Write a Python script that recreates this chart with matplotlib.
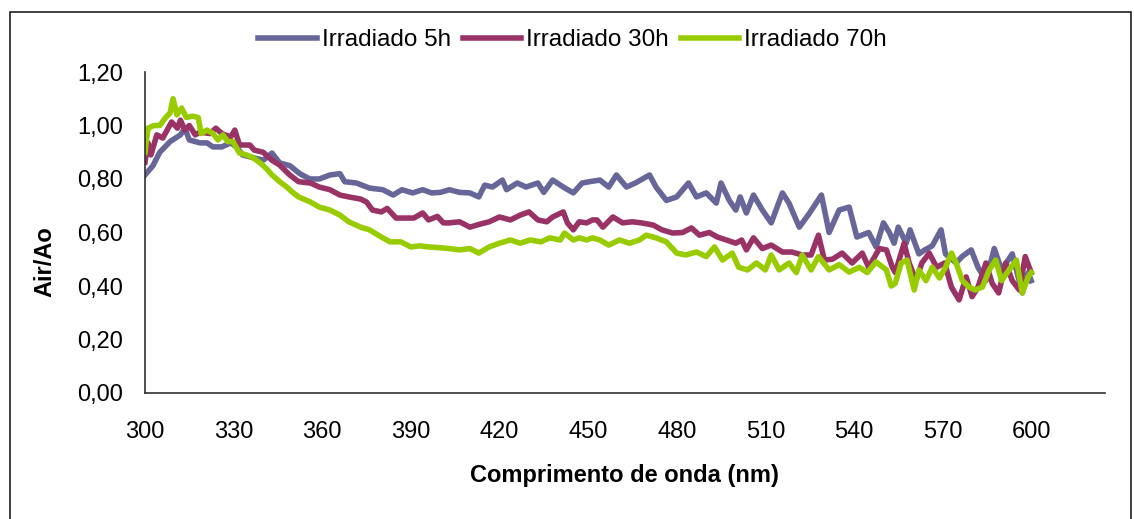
import numpy as np
import matplotlib
matplotlib.use('Agg')
import matplotlib.pyplot as plt
from matplotlib.patches import Rectangle

plt.rcParams['font.family'] = ['Liberation Sans', 'DejaVu Sans']

# Irradiado 5h
nm_5h = [300, 302.7, 305, 308.5, 312, 313.5, 315, 318.6, 321, 323, 326, 329, 331, 333,
         336.5, 340, 343, 345.6, 349, 352.4, 355.8, 359, 362.6, 366, 367.6, 371.6, 376,
         380.5, 384, 387, 390.6, 394, 397, 400, 403, 406.5, 410, 413, 415, 417.6, 421,
         422.4, 426, 429, 433, 435, 438, 441.6, 445, 448, 450.5, 454, 457, 459.6, 463,
         466, 470.8, 473, 476.5, 480, 484, 486.7, 490, 493.4, 495, 497.8, 500, 501.5,
         503.6, 506, 509, 512, 515.8, 518, 521.5, 525, 529, 531.6, 535, 538.4, 541, 545,
         547.5, 550, 552, 553.6, 555, 557.7, 559, 562, 564, 566.5, 569.5, 571, 574.6,
         576.6, 579.7, 582, 584.7, 587.5, 590, 593.6, 597, 599, 600]
val_5h = [0.815, 0.85, 0.90, 0.94, 0.965, 0.99, 0.946, 0.935, 0.935, 0.92, 0.92, 0.935, 0.92, 0.89,
          0.88, 0.87, 0.897, 0.86, 0.85, 0.82, 0.80, 0.80, 0.815, 0.82, 0.79, 0.785, 0.766,
          0.76, 0.74, 0.76, 0.748, 0.76, 0.748, 0.75, 0.76, 0.75, 0.748, 0.733, 0.777, 0.77, 0.796,
          0.76, 0.785, 0.77, 0.785, 0.75, 0.796, 0.77, 0.748, 0.785, 0.79, 0.796, 0.77, 0.815, 0.77,
          0.785, 0.815, 0.77, 0.72, 0.733, 0.785, 0.733, 0.748, 0.71, 0.785, 0.72, 0.684, 0.733,
          0.673, 0.74, 0.684, 0.636, 0.748, 0.71, 0.62, 0.673, 0.74, 0.60, 0.684, 0.695, 0.583, 0.60,
          0.546, 0.636, 0.60, 0.56, 0.62, 0.56, 0.61, 0.52, 0.535, 0.55, 0.61, 0.52, 0.486,
          0.51, 0.535, 0.47, 0.42, 0.54, 0.46, 0.52, 0.374, 0.45, 0.42]

# Irradiado 30h
nm_30h = [300, 301, 302, 304, 306, 309, 311, 312, 313.5, 315, 317, 318.6, 322, 324, 326, 329,
          330.4, 332, 335.5, 337, 340, 343, 345.6, 349, 352, 356, 359, 362.6, 366, 369, 373,
          375, 377, 380, 382, 385, 387, 391, 394, 396, 399, 401, 403, 406.5, 410, 413, 416.5,
          420, 423.7, 427, 430, 433, 436, 438, 441.6, 443, 445, 447, 449.5, 451.5, 453, 455,
          458.4, 461.7, 465, 468, 472, 475, 478.6, 482, 485, 487.7, 491, 493.8, 496.8, 500,
          502, 503.6, 506, 509, 512, 515.8, 519, 522.5, 525.5, 528, 530, 532.7, 536, 539.4,
          542.8, 545, 548.6, 551, 553, 554, 557, 558.7, 561, 563, 565.5, 568, 570.7, 573,
          575.6, 578, 580, 582, 584.7, 586.8, 589, 591.4, 593.6, 596, 598, 600]
val_30h = [0.863, 0.935, 0.89, 0.965, 0.953, 1.013, 0.99, 1.02, 0.983, 1.00, 0.965, 0.975, 0.97,
           0.99, 0.97, 0.957, 0.983, 0.927, 0.927, 0.908, 0.90, 0.87, 0.852, 0.815, 0.79, 0.785,
           0.77, 0.76, 0.74, 0.733, 0.725, 0.714, 0.684, 0.677, 0.69, 0.654, 0.654, 0.654, 0.673,
           0.647, 0.66, 0.636, 0.636, 0.64, 0.62, 0.63, 0.64, 0.658, 0.647, 0.665, 0.677, 0.647,
           0.64, 0.658, 0.677, 0.636, 0.61, 0.64, 0.636, 0.647, 0.647, 0.62, 0.658, 0.636, 0.64,
           0.636, 0.628, 0.61, 0.598, 0.60, 0.617, 0.59, 0.60, 0.583, 0.572, 0.56, 0.572, 0.535,
           0.58, 0.54, 0.553, 0.527, 0.527, 0.516, 0.516, 0.59, 0.497, 0.50, 0.523, 0.486, 0.523,
           0.47, 0.54, 0.535, 0.47, 0.45, 0.56, 0.486, 0.42, 0.486, 0.523, 0.47, 0.486, 0.396,
           0.348, 0.434, 0.36, 0.396, 0.486, 0.41, 0.374, 0.486, 0.42, 0.385, 0.51, 0.45]

# Irradiado 70h
nm_70h = [300, 301, 303, 305, 307, 308.5, 309.5, 310.8, 312.4, 314, 316, 318, 319, 321, 323,
          324.7, 326.4, 328, 329.8, 331, 332, 334.4, 336.5, 339, 341, 343, 345.6, 348, 350,
          352, 356, 359, 362.6, 366, 369, 373, 376, 380, 383, 386.6, 390, 393, 396, 400, 403,
          406.5, 410, 413, 416.5, 420, 423.7, 427, 430.4, 434, 437, 440.6, 442, 445, 447,
          449.5, 451.5, 454, 457, 460.6, 464, 467.4, 469.7, 473, 476.5, 480, 483, 486.7, 490,
          492.8, 495.5, 498.8, 501, 504, 507, 510, 512, 514.7, 518, 520.5, 522.5, 525.5, 528,
          531.6, 535, 538.4, 541.8, 544.5, 547.5, 551, 552.6, 554, 556, 558, 560.4, 562,
          564.4, 566.5, 569, 571, 573, 574.6, 576.7, 579, 581, 583.5, 585.8, 588, 590, 592.5,
          595, 597, 599, 600]
val_70h = [0.90, 0.99, 1.00, 1.00, 1.03, 1.047, 1.10, 1.04, 1.065, 1.03, 1.035, 1.03, 0.97, 0.983,
           0.97, 0.946, 0.965, 0.94, 0.94, 0.916, 0.897, 0.89, 0.88, 0.86, 0.84, 0.815, 0.79, 0.77,
           0.75, 0.733, 0.714, 0.695, 0.684, 0.665, 0.64, 0.62, 0.61, 0.583, 0.565, 0.565, 0.546,
           0.55, 0.546, 0.543, 0.54, 0.535, 0.54, 0.523, 0.546, 0.56, 0.572, 0.56, 0.572, 0.565,
           0.58, 0.572, 0.598, 0.572, 0.58, 0.572, 0.58, 0.572, 0.553, 0.572, 0.56, 0.572, 0.59,
           0.58, 0.565, 0.523, 0.516, 0.527, 0.51, 0.546, 0.497, 0.523, 0.47, 0.46, 0.486, 0.46,
           0.516, 0.46, 0.486, 0.45, 0.516, 0.46, 0.51, 0.46, 0.48, 0.452, 0.47, 0.45, 0.49, 0.46,
           0.40, 0.41, 0.486, 0.497, 0.385, 0.46, 0.42, 0.47, 0.43, 0.47, 0.523, 0.486, 0.42,
           0.396, 0.385, 0.396, 0.46, 0.497, 0.42, 0.46, 0.497, 0.374, 0.434, 0.45]

series = [
    ('Irradiado 5h', nm_5h, val_5h, '#666699'),
    ('Irradiado 30h', nm_30h, val_30h, '#993366'),
    ('Irradiado 70h', nm_70h, val_70h, '#99CC00'),
]

x_ticks = list(range(300, 601, 30))
y_ticks = [0.0, 0.2, 0.4, 0.6, 0.8, 1.0, 1.2]
y_ticklabels = ['0,00', '0,20', '0,40', '0,60', '0,80', '1,00', '1,20']

W, H = 1134, 519
fig = plt.figure(figsize=(W / 100, H / 100), dpi=100)
ax = fig.add_axes([145 / W, 1 - 393 / H, (1105 - 145) / W, (393 - 72) / H])

for label, x, y, c in series:
    ax.plot(x, y, color=c, lw=4.0, label=label, solid_joinstyle='round')

ax.set_xlim(300, 625)
ax.set_ylim(0, 1.2)
ax.set_xticks(x_ticks)
ax.set_yticks(y_ticks)
ax.set_yticklabels(y_ticklabels)
ax.tick_params(length=0, labelsize=17)
ax.tick_params(axis='x', pad=20)
ax.tick_params(axis='y', pad=16)
for s in ['top', 'right']:
    ax.spines[s].set_visible(False)
for s in ['left', 'bottom']:
    ax.spines[s].set_color('#303030')
    ax.spines[s].set_linewidth(1.2)

ax.set_xlabel('Comprimento de onda (nm)', fontsize=17, fontweight='bold')
ax.set_ylabel('Air/Ao', fontsize=17, fontweight='bold')
ax.xaxis.set_label_coords((624 - 145) / 960, -0.22)
ax.yaxis.set_label_coords(-0.092, 0.41)

fig.legend(loc='center', bbox_to_anchor=(0.505, 1 - 40 / H), ncol=3, frameon=False,
           fontsize=17.5, handlelength=2.4, handletextpad=0.2, columnspacing=0.5,
           borderaxespad=0)

# outer chart frame
fig.patches.append(Rectangle((10 / W, -0.05), (1131 - 10) / W, 1.05 - 12 / H,
                             transform=fig.transFigure, fill=False, ec='#202020', lw=1.2))

fig.savefig('out.png', dpi=100)
